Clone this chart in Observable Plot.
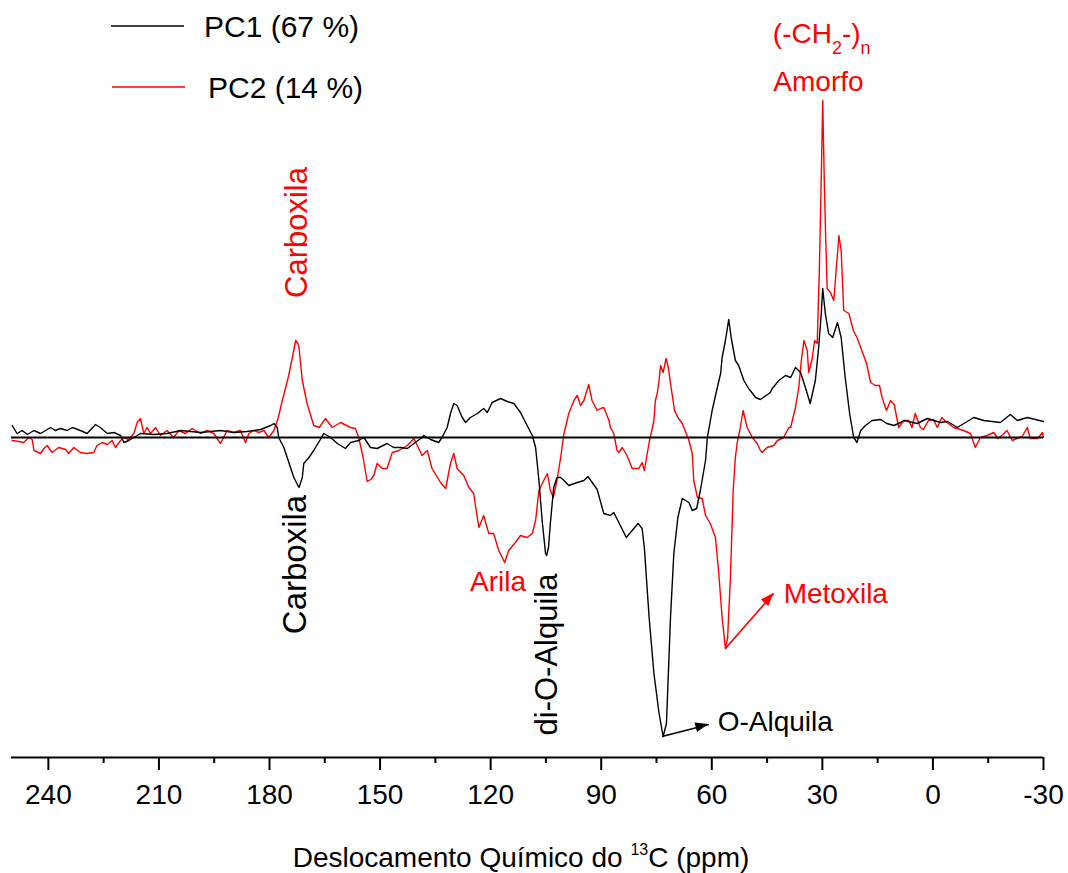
<!DOCTYPE html>
<html><head><meta charset="utf-8">
<script src="https://cdn.jsdelivr.net/npm/d3@7"></script>
<script src="https://cdn.jsdelivr.net/npm/@observablehq/plot@0.6"></script>
<style>
body{margin:0;background:#fff;}
#chart{position:relative;width:1068px;height:873px;}
</style>
</head><body><div id="chart"></div>
<script>
// [ppm, loading x1000]
const pc1Loadings = [[249.8,12],[248.5,4],[247.1,7],[245.7,3],[243.9,7],[242.1,4],[239.4,10],[238.1,7],[236.7,9],[234.9,7],[233.5,10],[231.3,7],[229.5,4],[227.2,13],[225.9,10],[224.0,4],[222.2,5],[220.4,2],[219.5,-5],[218.2,-3],[216.8,0],[215.0,4],[211.4,3],[207.8,4],[204.1,7],[198.7,5],[193.3,7],[189.7,5],[186.1,6],[182.4,8],[179.7,12],[178.8,14],[177.9,10],[177.5,0],[176.1,-10],[175.2,-20],[174.3,-30],[173.4,-40],[172.0,-50],[171.1,-40],[170.7,-26],[169.3,-20],[168.0,-13],[166.2,-2],[165.3,4],[163.4,0],[161.6,-6],[159.4,-11],[158.0,-5],[155.8,-3],[154.4,0],[152.6,-10],[150.8,-11],[148.1,-6],[146.3,-10],[144.5,-10],[142.6,-11],[140.8,-6],[139.0,-1],[138.1,2],[136.3,-2],[134.1,-5],[133.2,0],[131.8,10],[130.9,24],[130.0,34],[129.1,32],[127.7,20],[126.8,15],[125.5,20],[123.6,24],[121.9,29],[120.9,25],[119.6,35],[117.3,39],[115.5,36],[113.7,34],[111.9,25],[110.1,12],[108.7,2],[107.8,-10],[106.9,-43],[106.0,-84],[105.1,-116],[104.8,-118],[104.3,-110],[103.8,-86],[102.9,-50],[102.0,-40],[101.0,-40],[100.1,-43],[98.8,-48],[96.5,-45],[94.7,-43],[93.6,-39],[91.1,-52],[89.3,-76],[87.5,-78],[86.6,-75],[84.8,-88],[83.2,-100],[81.6,-93],[80.0,-86],[78.9,-91],[78.3,-110],[77.0,-180],[75.7,-236],[74.3,-276],[73.2,-299],[72.3,-286],[71.2,-180],[70.3,-116],[69.2,-80],[68.0,-61],[66.2,-65],[65.3,-73],[64.1,-71],[63.1,-53],[61.7,-23],[61.2,0],[59.9,27],[58.5,50],[57.6,64],[57.2,80],[56.3,97],[55.4,118],[54.7,99],[53.6,77],[52.7,72],[51.3,57],[50.0,49],[48.1,40],[46.8,38],[44.1,45],[43.6,49],[41.8,57],[40.0,62],[38.6,60],[37.3,70],[35.9,65],[34.6,50],[33.3,34],[31.9,57],[31.0,90],[30.3,124],[29.9,149],[29.2,124],[28.3,104],[27.2,100],[25.9,115],[24.9,100],[23.8,60],[22.6,24],[21.5,0],[20.6,-5],[19.6,7],[18.3,12],[16.5,17],[14.2,18],[12.5,14],[10.6,12],[8.8,15],[7.9,17],[4.3,14],[1.5,19],[-2.1,15],[-4.0,16],[-6.6,10],[-11.1,20],[-13.8,17],[-18.3,15],[-21.0,23],[-22.9,17],[-25.6,20],[-30.0,16]];

const pc2Loadings = [[249.8,-3],[248.0,-4],[246.7,-5],[245.3,0],[244.4,-2],[243.9,-13],[242.1,-16],[241.2,-11],[240.3,-8],[239.0,-15],[237.2,-10],[235.3,-12],[234.5,-16],[233.1,-10],[231.3,-15],[229.5,-16],[227.7,-15],[226.8,-8],[225.4,-5],[224.0,-7],[222.7,-3],[221.8,-10],[220.4,-3],[219.5,0],[218.2,-2],[216.8,4],[215.9,15],[215.0,19],[214.1,4],[213.2,10],[212.3,4],[210.9,10],[209.6,2],[207.8,7],[206.0,0],[204.6,7],[202.8,4],[201.0,9],[198.7,4],[196.9,7],[195.1,4],[193.3,-6],[191.5,7],[189.7,5],[187.9,7],[186.5,-5],[185.6,4],[184.2,7],[182.9,5],[181.5,7],[180.2,0],[178.8,7],[177.6,20],[176.6,36],[175.6,50],[174.8,62],[173.8,80],[172.9,97],[172.3,94],[172.0,90],[171.1,57],[169.8,34],[168.0,12],[166.5,10],[164.8,19],[163.0,10],[160.7,15],[158.0,10],[156.7,9],[155.8,0],[154.6,-20],[153.5,-44],[152.5,-42],[151.7,-38],[150.8,-26],[149.4,-31],[148.1,-31],[146.7,-15],[144.9,-13],[142.6,-8],[140.8,-1],[139.9,-8],[138.6,-18],[137.2,-13],[135.9,-31],[133.6,-45],[132.2,-51],[130.9,-26],[130.0,-16],[129.1,-31],[127.3,-38],[125.9,-50],[124.6,-56],[123.2,-90],[121.9,-78],[120.5,-96],[119.2,-96],[117.8,-113],[116.2,-125],[115.1,-113],[113.3,-105],[111.9,-98],[110.1,-100],[108.7,-96],[107.8,-83],[106.9,-53],[105.6,-43],[104.6,-36],[103.8,-53],[103.0,-60],[102.0,-43],[101.0,-20],[100.1,4],[98.8,24],[97.4,37],[96.5,42],[95.6,32],[94.7,37],[93.4,53],[92.5,37],[91.1,27],[90.2,29],[89.3,30],[87.9,17],[87.5,10],[86.6,4],[85.7,-13],[85.2,-15],[84.3,-10],[83.0,-18],[81.6,-31],[79.8,-31],[78.9,-25],[78.3,-33],[77.0,-5],[76.1,10],[75.7,17],[75.3,37],[74.8,44],[74.3,57],[73.9,72],[73.2,65],[72.4,79],[71.8,70],[71.0,49],[70.1,27],[69.2,20],[68.0,14],[66.5,0],[66.2,-3],[65.3,-16],[64.9,-43],[63.9,-60],[62.6,-61],[61.7,-78],[60.4,-86],[59.0,-100],[58.1,-136],[57.2,-180],[56.3,-211],[55.7,-200],[54.9,-136],[54.2,-53],[53.6,-20],[53.1,-5],[52.4,7],[51.5,27],[50.4,10],[49.0,0],[47.7,-6],[46.8,-13],[46.3,-15],[45.0,-10],[43.2,-8],[42.2,-3],[40.5,0],[39.1,10],[38.6,10],[37.7,24],[37.3,30],[36.4,50],[35.7,77],[35.0,97],[34.1,87],[33.7,65],[32.8,78],[32.1,97],[31.4,94],[30.8,170],[30.3,260],[29.9,337],[29.5,260],[29.1,200],[28.7,149],[27.8,145],[26.9,137],[26.2,170],[25.5,202],[24.9,187],[24.2,127],[22.8,124],[21.6,107],[20.6,100],[19.6,90],[18.0,74],[16.9,55],[15.6,52],[14.5,52],[13.8,40],[12.6,27],[11.5,37],[10.5,33],[9.3,10],[7.9,17],[6.5,17],[5.7,10],[4.8,24],[3.4,10],[2.6,8],[1.2,17],[-0.1,18],[-1.2,10],[-2.4,20],[-3.8,15],[-5.6,10],[-8.3,7],[-10.2,4],[-11.5,-10],[-12.9,0],[-14.7,2],[-16.5,5],[-17.6,-1],[-19.0,3],[-20.1,7],[-21.5,-3],[-22.8,-1],[-24.2,1],[-25.6,10],[-26.4,-1],[-28.4,-1],[-29.7,5],[-30.0,0]];

const seriesNames = ["PC1 (67 %)", "PC2 (14 %)"];
const seriesColors = ["#000000", "#ff0000"];

const majorTicks = [240, 210, 180, 150, 120, 90, 60, 30, 0, -30];
const tickLabels = ["240", "210", "180", "150", "120", "90", "60", "30", "0", "-30"];
const minorTicks = [225, 195, 165, 135, 105, 75, 45, 15, -15];

const xDomain = [250, -30];
const yDomain = [-320, 430];

// annotations: text, position in data units (ppm, loading), series index
const flatLabels = [
  {text: "Arila", ppm: 118.0, value: -145, series: 1, align: "middle"},
  {text: "O-Alquila", ppm: 58.4, value: -285, series: 0, align: "start"},
  {text: "Metoxila", ppm: 40.5, value: -157, series: 1, align: "start"},
  {text: "Amorfo", ppm: 43.3, value: 355, series: 1, align: "start"}
];
const uprightLabels = [
  {text: "Carboxila", ppm: 172.5, value: 205, series: 1, big: false},
  {text: "Carboxila", ppm: 172.9, value: -127, series: 0, big: true},
  {text: "di-O-Alquila", ppm: 104.6, value: -217, series: 0, big: false}
];
const ch2Label = {ppm: 43.3, value: 394, series: 1};
const arrows = [
  {ppm1: 73.5, value1: -299, ppm2: 60.8, value2: -287, series: 0},
  {ppm1: 56.3, value1: -211, ppm2: 43.2, value2: -156, series: 1}
];
const axisTitle = {main: "Deslocamento Químico do ", sup: "13", rest: "C (ppm)"};

const toRows = arr => arr.map(([ppm, value]) => ({ppm, value}));
const pc1 = toRows(pc1Loadings);
const pc2 = toRows(pc2Loadings);
const labelOf = new Map(majorTicks.map((t, i) => [t, tickLabels[i]]));
const FONT = "'Liberation Sans', Arial, Helvetica, sans-serif";

const plot = Plot.plot({
  width: 1068,
  height: 873,
  marginLeft: 11,
  marginRight: 25,
  marginTop: 7,
  marginBottom: 116,
  style: {fontFamily: FONT, background: "#fff", color: "#000"},
  x: {domain: xDomain},
  y: {domain: yDomain, axis: null},
  color: {type: "identity"},
  marks: [
    Plot.line(pc2, {x: "ppm", y: "value", stroke: seriesColors[1], strokeWidth: 1.4}),
    Plot.line(pc1, {x: "ppm", y: "value", stroke: seriesColors[0], strokeWidth: 1.4}),
    Plot.ruleY([0], {stroke: "#000", strokeWidth: 2.2}),
    Plot.ruleY([yDomain[0]], {stroke: "#000", strokeWidth: 2.2}),
    Plot.axisX(majorTicks, {anchor: "bottom", tickSize: 13, tickPadding: 14, strokeWidth: 2, fontSize: 28, tickFormat: d => labelOf.get(d), label: null}),
    Plot.axisX(minorTicks, {anchor: "bottom", tickSize: 6, strokeWidth: 2, fill: "none", label: null}),
    Plot.link(arrows, {x1: "ppm1", y1: "value1", x2: "ppm2", y2: "value2", stroke: d => seriesColors[d.series], strokeWidth: 1.6}),
    Plot.text(flatLabels.filter(d => d.align === "start"), {x: "ppm", y: "value", text: "text", fill: d => seriesColors[d.series], fontSize: 28, textAnchor: "start", lineAnchor: "middle"}),
    Plot.text(flatLabels.filter(d => d.align === "middle"), {x: "ppm", y: "value", text: "text", fill: d => seriesColors[d.series], fontSize: 28, textAnchor: "middle", lineAnchor: "middle"}),
    Plot.text(uprightLabels.filter(d => !d.big), {x: "ppm", y: "value", text: "text", fill: d => seriesColors[d.series], fontSize: 31, rotate: -90, textAnchor: "middle", lineAnchor: "middle"}),
    Plot.text(uprightLabels.filter(d => d.big), {x: "ppm", y: "value", text: "text", fill: d => seriesColors[d.series], fontSize: 33, rotate: -90, textAnchor: "middle", lineAnchor: "middle"})
  ]
});

document.getElementById("chart").appendChild(plot);

const sx = plot.scale("x"), sy = plot.scale("y");
const svg = d3.select(plot);

// filled arrow heads
arrows.forEach(a => {
  const x1 = sx.apply(a.ppm1), y1 = sy.apply(a.value1);
  const x2 = sx.apply(a.ppm2), y2 = sy.apply(a.value2);
  const dx = x2 - x1, dy = y2 - y1, len = Math.hypot(dx, dy);
  const ux = dx / len, uy = dy / len;
  const L = 13, W = 5;
  const bx = x2 - ux * L, by = y2 - uy * L;
  svg.append("polygon")
    .attr("points", [[x2, y2], [bx - uy * W, by + ux * W], [bx + uy * W, by - ux * W]].map(p => p.join(",")).join(" "))
    .attr("fill", seriesColors[a.series]);
});

// (-CH2-)n label with subscripts
const ch2 = svg.append("text")
  .attr("x", sx.apply(ch2Label.ppm))
  .attr("y", sy.apply(ch2Label.value))
  .attr("text-anchor", "start")
  .attr("fill", seriesColors[ch2Label.series])
  .attr("font-family", FONT)
  .attr("font-size", 28);
ch2.append("tspan").text("(-CH");
ch2.append("tspan").attr("font-size", 18).attr("dy", 11).text("2");
ch2.append("tspan").attr("dy", -11).text("-)");
ch2.append("tspan").attr("font-size", 18).attr("dy", 11).text("n");

// x axis title with superscript
const title = svg.append("text")
  .attr("x", (sx.range[0] + sx.range[1]) / 2 - 6)
  .attr("y", sy.apply(yDomain[0]) + 110)
  .attr("text-anchor", "middle")
  .attr("fill", "#000")
  .attr("font-family", FONT)
  .attr("font-size", 28);
title.append("tspan").text(axisTitle.main);
title.append("tspan").attr("font-size", 16).attr("dy", -12).text(axisTitle.sup);
title.append("tspan").attr("dy", 12).text(axisTitle.rest);

// legend
const legend = svg.append("g").attr("font-family", FONT).attr("font-size", 30).attr("text-anchor", "start");
seriesNames.forEach((name, i) => {
  const yy = i === 0 ? 26 : 87;
  const x0 = i === 0 ? 111 : 112;
  legend.append("line").attr("x1", x0).attr("x2", x0 + 73).attr("y1", yy).attr("y2", yy)
    .attr("stroke", seriesColors[i]).attr("stroke-width", 1.6);
  legend.append("text").attr("x", i === 0 ? 204 : 208).attr("y", yy + 11)
    .attr("text-anchor", "start").attr("fill", "#000").text(name);
});
</script>
</body></html>
